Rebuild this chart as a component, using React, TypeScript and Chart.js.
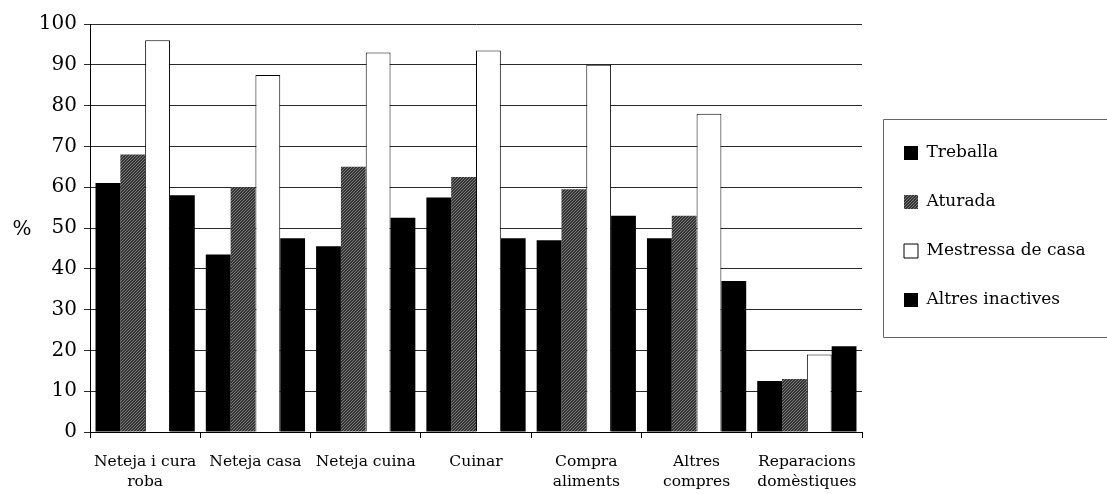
import React, { useEffect, useRef } from 'react';
import { Chart, registerables } from 'chart.js';

Chart.register(...registerables);

const categories: (string | string[])[] = [
  ['Neteja i cura', 'roba'],
  'Neteja casa',
  'Neteja cuina',
  'Cuinar',
  ['Compra', 'aliments'],
  ['Altres', 'compres'],
  ['Reparacions', 'domèstiques'],
];
const seriesNames = ['Treballa', 'Aturada', 'Mestressa de casa', 'Altres inactives'];
const treballa = [61, 43.5, 45.5, 57.5, 47, 47.5, 12.5];
const aturada = [68, 60, 65, 62.5, 59.5, 53, 13];
const mestressa = [96, 87.5, 93, 93.5, 90, 78, 19];
const altresInactives = [58, 47.5, 52.5, 47.5, 53, 37, 21];
const yMin = 0;
const yMax = 100;
const yStep = 10;
const yAxisLabel = '%';

const FONT = "'DejaVu Serif', serif";

function makeHatch(ctx: CanvasRenderingContext2D): CanvasPattern | string {
  const c = document.createElement('canvas');
  c.width = 3;
  c.height = 3;
  const g = c.getContext('2d');
  if (!g) return '#4a4a4a';
  g.fillStyle = '#343434';
  g.fillRect(0, 0, 3, 3);
  g.fillStyle = '#7a7a7a';
  g.fillRect(0, 2, 1, 1);
  g.fillRect(1, 1, 1, 1);
  g.fillRect(2, 0, 1, 1);
  return ctx.createPattern(c, 'repeat') || '#4a4a4a';
}

export default function App() {
  const ref = useRef<HTMLCanvasElement | null>(null);

  useEffect(() => {
    document.body.style.margin = '0';
    const canvas = ref.current;
    if (!canvas) return;
    const ctx = canvas.getContext('2d');
    if (!ctx) return;
    const hatch = makeHatch(ctx);

    const legendPlugin = {
      id: 'legendTweaks',
      beforeInit(chart: any) {
        const legend = chart.legend;
        if (legend) {
          const orig = legend.fit;
          legend.fit = function () {
            orig.call(this);
            this.width = 245;
          };
        }
      },
      afterLayout(chart: any) {
        const legend = chart.legend;
        if (!legend) return;
        const dx = 10;
        legend.left = chart.chartArea.right + dx;
        legend.top = chart.chartArea.top + 88.5;
      },
      afterDraw(chart: any) {
        const c = chart.ctx;
        const legend = chart.legend;
        const area = chart.chartArea;
        c.save();
        if (legend) {
          c.strokeStyle = '#666';
          c.lineWidth = 1;
          c.beginPath();
          const lx = Math.round(legend.left + 11) + 0.5;
          const ty = Math.round(legend.top + 6.5) + 0.5;
          const by = ty + 218;
          c.moveTo(chart.width + 2, ty);
          c.lineTo(lx, ty);
          c.lineTo(lx, by);
          c.lineTo(chart.width + 2, by);
          c.stroke();
        }
        c.fillStyle = '#000';
        c.font = `20px ${FONT}`;
        c.textAlign = 'center';
        c.textBaseline = 'middle';
        c.fillText(yAxisLabel, 22, (area.top + area.bottom) / 2 + 2);
        c.restore();
      },
    };

    const chart = new Chart(ctx, {
      type: 'bar',
      data: {
        labels: categories,
        datasets: [
          {
            label: seriesNames[0],
            data: treballa,
            backgroundColor: '#000',
            borderWidth: 0,
          },
          {
            label: seriesNames[1],
            data: aturada,
            backgroundColor: hatch as any,
            borderWidth: 0,
          },
          {
            label: seriesNames[2],
            data: mestressa,
            backgroundColor: '#fff',
            borderColor: '#000',
            borderWidth: 1,
          },
          {
            label: seriesNames[3],
            data: altresInactives,
            backgroundColor: '#000',
            borderWidth: 0,
          },
        ],
      },
      options: {
        animation: false,
        responsive: false,
        devicePixelRatio: 1,
        layout: { padding: { top: 24, left: 0, right: 0, bottom: 0 } },
        datasets: {
          bar: {
            categoryPercentage: 0.9,
            barPercentage: 1.0,
          },
        },
        plugins: {
          tooltip: { enabled: false },
          title: { display: false },
          legend: {
            display: true,
            position: 'right',
            align: 'start',
            labels: {
              boxWidth: 14,
              boxHeight: 14,
              padding: 32,
              color: '#000',
              font: { family: FONT, size: 17 },
            },
          },
        },
        scales: {
          x: {
            type: 'category',
            offset: true,
            grid: {
              display: true,
              drawOnChartArea: false,
              offset: true,
              tickLength: 6,
              color: '#000',
            },
            border: { display: true, color: '#000', width: 1 },
            ticks: {
              color: '#000',
              padding: 14,
              maxRotation: 0,
              autoSkip: false,
              font: { family: FONT, size: 15.5, lineHeight: 1.3 },
            },
            afterFit(scale: any) {
              scale.height = 62;
            },
          },
          y: {
            min: yMin,
            max: yMax,
            grid: {
              color: '#2a2a2a',
              lineWidth: 1,
              tickLength: 6,
            },
            border: { display: true, color: '#000', width: 1 },
            ticks: {
              stepSize: yStep,
              color: '#000',
              padding: 7,
              font: { family: FONT, size: 20 },
            },
            afterFit(scale: any) {
              scale.width = 90;
            },
          },
        },
      },
      plugins: [legendPlugin],
    });

    return () => {
      chart.destroy();
    };
  }, []);

  return (
    <div style={{ width: 1107, height: 494 }}>
      <canvas ref={ref} width={1107} height={494} style={{ display: 'block' }} />
    </div>
  );
}
